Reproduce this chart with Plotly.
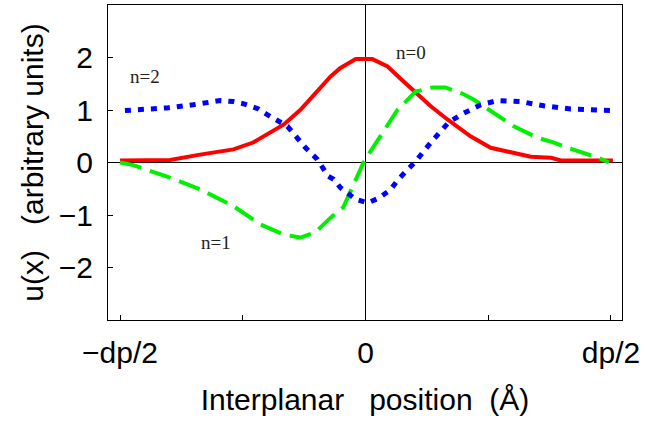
import plotly.graph_objects as go

# n=0 (red, solid)
x0 = [-0.5, -0.398, -0.337, -0.269, -0.229, -0.167, -0.133, -0.092, -0.071, -0.051, -0.02, 0.014,
      0.045, 0.071, 0.102, 0.133, 0.167, 0.214, 0.255, 0.337, 0.378, 0.398, 0.504]
y0 = [0.04, 0.05, 0.15, 0.25, 0.38, 0.72, 1.0, 1.44, 1.64, 1.8, 1.97, 1.97,
      1.83, 1.6, 1.33, 1.07, 0.82, 0.5, 0.28, 0.11, 0.09, 0.04, 0.04]

# n=1 (green, dashed)
x1 = [-0.5, -0.473, -0.404, -0.337, -0.269, -0.229, -0.214, -0.167, -0.133, -0.102, -0.071, -0.045,
      -0.031, -0.004, 0.01, 0.045, 0.065, 0.102, 0.137, 0.163, 0.2, 0.22, 0.276, 0.302, 0.351,
      0.384, 0.412, 0.474, 0.496]
y1 = [0.0, -0.05, -0.27, -0.51, -0.83, -1.08, -1.18, -1.37, -1.43, -1.33, -1.05, -0.85,
      -0.57, 0.0, 0.21, 0.72, 1.0, 1.35, 1.43, 1.43, 1.3, 1.2, 0.86, 0.69, 0.47,
      0.38, 0.28, 0.09, 0.0]

# n=2 (blue, dotted)
x2 = [-0.49, -0.404, -0.351, -0.296, -0.269, -0.249, -0.218, -0.2, -0.159, -0.139, -0.122, -0.098,
      -0.076, -0.065, -0.051, -0.02, 0.004, 0.027, 0.051, 0.067, 0.102, 0.133, 0.169, 0.194,
      0.235, 0.269, 0.316, 0.363, 0.418, 0.5]
y2 = [0.99, 1.04, 1.10, 1.18, 1.16, 1.12, 1.02, 0.91, 0.69, 0.47, 0.28, 0.06,
      -0.26, -0.32, -0.48, -0.70, -0.77, -0.68, -0.52, -0.32, 0.02, 0.38, 0.76, 0.91,
      1.10, 1.18, 1.16, 1.08, 1.02, 0.99]

xtick_vals = [-0.5, -0.25, 0, 0.25, 0.5]
xtick_text = ["\u2212dp/2", "", "0", "", "dp/2"]
ytick_vals = [-2, -1, 0, 1, 2]

labels = ["n=2", "n=0", "n=1"]
label_x = [-0.45, 0.092, -0.304]
label_y = [1.64, 2.1, -1.52]

fig = go.Figure()
fig.add_trace(go.Scatter(x=x0, y=y0, mode="lines", line=dict(color="#ff0000", width=4)))
fig.add_trace(go.Scatter(x=x1, y=y1, mode="lines", line=dict(color="#00f000", width=4, dash="22px,9px")))
fig.add_trace(go.Scatter(x=x2, y=y2, mode="lines", line=dict(color="#0000ff", width=5, dash="6px,7px")))

for t, ax, ay in zip(labels, label_x, label_y):
    fig.add_annotation(x=ax, y=ay, text=t, showarrow=False,
                       font=dict(family="Liberation Serif", size=19, color="#222"))

fig.update_layout(
    width=645, height=425,
    margin=dict(l=108, r=23, t=5, b=105),
    paper_bgcolor="white", plot_bgcolor="white",
    showlegend=False,
    font=dict(family="Liberation Sans", color="black"),
    xaxis=dict(range=[-0.5245, 0.5225], tickvals=xtick_vals, ticktext=xtick_text,
               ticks="inside", ticklen=5, tickcolor="black",
               showline=True, mirror=True, linecolor="black", linewidth=1,
               showgrid=False, zeroline=True, zerolinecolor="black", zerolinewidth=1,
               tickfont=dict(size=30), ticklabelstandoff=6,
               title=dict(text="Interplanar   position  (Å)", font=dict(size=30), standoff=20)),
    yaxis=dict(range=[-3, 3], tickvals=ytick_vals,
               ticks="inside", ticklen=5, tickcolor="black",
               showline=True, mirror=True, linecolor="black", linewidth=1,
               showgrid=False, zeroline=True, zerolinecolor="black", zerolinewidth=1,
               tickfont=dict(size=30), ticklabelstandoff=8,
               title=dict(text="u(x)   (arbitrary units)", font=dict(size=30), standoff=6)),
)

fig.write_html("out.html")
